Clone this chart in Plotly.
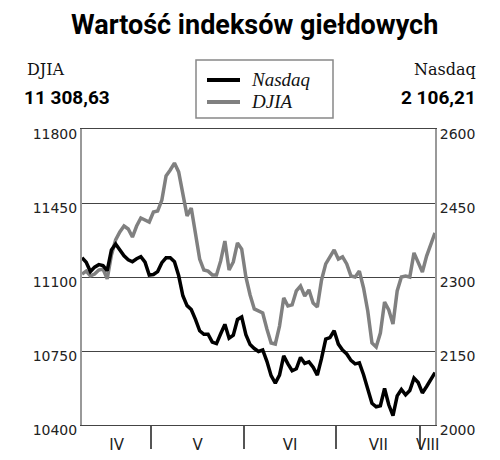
import plotly.graph_objects as go

# trading-day index (mid-April .. early August)
days = list(range(85))

djia = [11114, 11128, 11105, 11114, 11133, 11138, 11091, 11204, 11275, 11313,
        11341, 11327, 11289, 11341, 11379, 11370, 11360, 11407, 11412, 11464,
        11578, 11606, 11639, 11597, 11483, 11389, 11426, 11313, 11185, 11133,
        11128, 11110, 11110, 11176, 11270, 11133, 11171, 11261, 11232, 11100,
        11015, 10949, 10939, 10930, 10854, 10788, 10783, 10868, 11001, 10963,
        10968, 11034, 11057, 11010, 11039, 10977, 10958, 11086, 11162, 11195,
        11228, 11185, 11195, 11162, 11105, 11100, 11128, 11048, 10939, 10788,
        10769, 10835, 10982, 10944, 10878, 11034, 11100, 11105, 11100, 11214,
        11171, 11124, 11199, 11256, 11308.63]

nasdaq = [2339, 2330, 2311, 2320, 2325, 2323, 2313, 2355, 2367, 2355,
          2343, 2335, 2331, 2337, 2341, 2330, 2304, 2305, 2311, 2329,
          2339, 2339, 2331, 2303, 2262, 2242, 2234, 2214, 2191, 2184,
          2184, 2168, 2165, 2185, 2204, 2176, 2182, 2214, 2219, 2183,
          2163, 2155, 2149, 2152, 2129, 2100, 2085, 2101, 2140, 2124,
          2110, 2114, 2137, 2125, 2128, 2117, 2101, 2135, 2174, 2177,
          2191, 2164, 2152, 2144, 2131, 2124, 2126, 2102, 2072, 2044,
          2037, 2039, 2074, 2041, 2019, 2059, 2072, 2061, 2070, 2095,
          2086, 2065, 2078, 2093, 2106.21]

month_breaks = [16.5, 38.5, 60.5, 80.5]
month_names = ["IV", "V", "VI", "VII", "VIII"]
djia_ticks = [10400, 10750, 11100, 11450, 11800]
nasdaq_ticks = [2000, 2150, 2300, 2450, 2600]
title_text = "Wartość indeksów giełdowych"
series_names = ["Nasdaq", "DJIA"]


def pl_fmt(v):
    return f"{v:,.2f}".replace(",", " ").replace(".", ",")


edges = [days[0]] + month_breaks + [days[-1]]
centers = [(a + b) / 2 for a, b in zip(edges[:-1], edges[1:])]

# the page body adds an 8px offset; the figure fills the rest of the 500x460 window
OFF = 8
W, H = 500 - OFF, 460 - OFF
ML, MR, MT, MB = 82 - OFF, 65, 129 - OFF, 35
PW, PH = W - ML - MR, H - MT - MB


def px(x):  # window pixel -> paper x
    return (x - OFF - ML) / PW


def py(y):  # window pixel -> paper y
    return (H - MB - (y - OFF)) / PH


SANS = "DejaVu Sans"
SERIF = "DejaVu Serif"
BOLD = "Roboto"
ITAL = "Liberation Serif"
GRAY = "#808080"
BLACK = "#000000"

fig = go.Figure()
fig.add_trace(go.Scatter(x=days, y=djia, name="DJIA", mode="lines",
                         line=dict(color=GRAY, width=3.5), yaxis="y"))
fig.add_trace(go.Scatter(x=days, y=nasdaq, name="Nasdaq", mode="lines",
                         line=dict(color=BLACK, width=3.5), yaxis="y2"))

fig.update_layout(
    width=W, height=H,
    margin=dict(l=ML, r=MR, t=MT, b=MB),
    paper_bgcolor="white", plot_bgcolor="white",
    showlegend=False,
    xaxis=dict(range=[days[0], days[-1]], tickmode="array", tickvals=centers,
               ticktext=month_names, ticks="", showgrid=False, zeroline=False,
               showline=True, mirror=True, linecolor="#444", linewidth=1,
               automargin=False, ticklabelstandoff=6,
               tickfont=dict(family=SANS, size=15, color="#222"),
               minor=dict(tickmode="array", tickvals=month_breaks, ticks="outside",
                          ticklen=23, tickcolor="#555", tickwidth=1.5, showgrid=False)),
    yaxis=dict(range=[djia_ticks[0], djia_ticks[-1]], tickmode="array",
               tickvals=djia_ticks, ticktext=[str(v) for v in djia_ticks],
               showgrid=True, gridcolor="#444", gridwidth=1,
               zeroline=False, showline=True, linecolor="#999", linewidth=2,
               ticks="", ticklabelshift=5, automargin=False,
               tickfont=dict(family=SANS, size=14, color="#222")),
    yaxis2=dict(range=[nasdaq_ticks[0], nasdaq_ticks[-1]], tickmode="array",
                tickvals=nasdaq_ticks, ticktext=[str(v) for v in nasdaq_ticks],
                overlaying="y", side="right",
                showgrid=False, zeroline=False, showline=True, linecolor="#999",
                linewidth=2, ticks="", ticklabelshift=5, automargin=False,
                tickfont=dict(family=SANS, size=14, color="#222")),
)

# title
fig.add_annotation(text="<b>" + title_text + "</b>", xref="paper", yref="paper",
                   x=px(254.5), y=py(25), xanchor="center", yanchor="middle",
                   showarrow=False, font=dict(family=BOLD, size=27, color="#000"))

ann_font_serif = dict(family=SERIF, size=16, color="#111")
ann_font_bold = dict(family=BOLD, size=19, color="#000")
fig.add_annotation(text="DJIA", xref="paper", yref="paper", x=px(25), y=py(70),
                   xanchor="left", yanchor="middle", showarrow=False, font=ann_font_serif)
fig.add_annotation(text="<b>" + pl_fmt(djia[-1]) + "</b>", xref="paper", yref="paper",
                   x=px(22), y=py(97), xanchor="left", yanchor="middle",
                   showarrow=False, font=ann_font_bold)
fig.add_annotation(text="Nasdaq", xref="paper", yref="paper", x=px(478), y=py(70),
                   xanchor="right", yanchor="middle", showarrow=False, font=ann_font_serif)
fig.add_annotation(text="<b>" + pl_fmt(nasdaq[-1]) + "</b>", xref="paper", yref="paper",
                   x=px(478), y=py(97), xanchor="right", yanchor="middle",
                   showarrow=False, font=ann_font_bold)

# legend box (drawn by hand to match the boxed key)
fig.add_shape(type="rect", xref="paper", yref="paper",
              x0=px(196), x1=px(333), y0=py(118), y1=py(60),
              line=dict(color="#888888", width=1.5), fillcolor="white", layer="above")
for name, color, yy in [(series_names[0], BLACK, 79), (series_names[1], GRAY, 101)]:
    fig.add_shape(type="line", xref="paper", yref="paper",
                  x0=px(207), x1=px(240), y0=py(yy + 1), y1=py(yy + 1),
                  line=dict(color=color, width=4), layer="above")
    fig.add_annotation(text=name, xref="paper", yref="paper", x=px(249), y=py(yy),
                       xanchor="left", yanchor="middle", showarrow=False,
                       font=dict(family=ITAL, size=19, color="#111", style="italic"))

fig.write_html("out.html")
